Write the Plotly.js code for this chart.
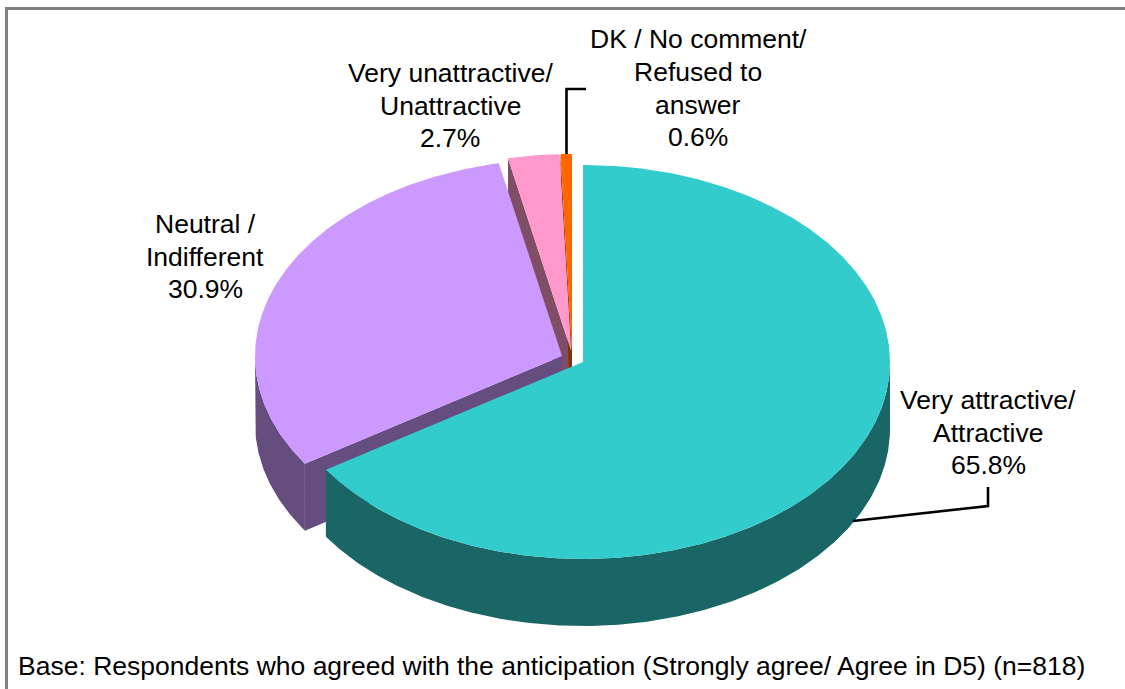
<!DOCTYPE html>
<html>
<head>
<meta charset="utf-8">
<script src="https://cdn.plot.ly/plotly-3.0.1.min.js"></script>
<style>html,body{margin:0;padding:0;background:#fff}#chart{width:1125px;height:689px}</style>
</head>
<body>
<div id="chart"></div>
<script>
// Survey shares, in drawing order clockwise from twelve o'clock
const categories = ["Very attractive/ Attractive", "Neutral / Indifferent", "Very unattractive/ Unattractive", "DK / No comment/ Refused to answer"];
const shares = [65.8, 30.9, 2.7, 0.6];
const labelLines = [
  ["Very attractive/", "Attractive"],
  ["Neutral /", "Indifferent"],
  ["Very unattractive/", "Unattractive"],
  ["DK / No comment/", "Refused to", "answer"]
];
const baseNote = "Base: Respondents who agreed with the anticipation (Strongly agree/ Agree in D5) (n=818)";

// Slice styling and tilted-disc geometry, in pixels
const topColors = ["#33CCCC", "#CC99FF", "#FF99CC", "#FF6600"];
const sideColors = ["#1A6666", "#664D80", "#804D66", "#803300"];
const apexX = [583, 562, 571.2, 572];
const apexY = [362, 356, 351, 351];
const labelX = [988, 205, 450, 698];
const labelFirstY = [400, 224, 73, 39.4];
const lineStep = 32.6;
const radiusX = 307, radiusY = 197, depth = 67;

const total = shares.reduce((a, b) => a + b, 0);
const startDeg = [];
shares.reduce((sum, v, i) => { startDeg[i] = sum / total * 360; return sum + v; }, 0);

function rimPoint(i, deg, drop) {
  const r = deg * Math.PI / 180;
  return [apexX[i] + radiusX * Math.sin(r), apexY[i] - radiusY * Math.cos(r) + drop];
}
function arc(i, a, b, drop) {
  const pts = [], n = Math.max(2, Math.ceil(Math.abs(b - a) * 2));
  for (let k = 0; k <= n; k++) pts.push(rimPoint(i, a + (b - a) * k / n, drop));
  return pts;
}
function polygon(pts, color) {
  return {
    type: "scatter", mode: "lines", fill: "toself", fillcolor: color,
    x: pts.map(p => p[0]), y: pts.map(p => p[1]),
    line: { width: 0, color: color }, hoverinfo: "skip", showlegend: false
  };
}
// Top face of a slice
function topFace(i) {
  const a = startDeg[i], b = a + shares[i] / total * 360;
  return polygon([[apexX[i], apexY[i]], ...arc(i, a, b, 0)], topColors[i]);
}
// Flat cut face along the slice's leading edge
function cutFace(i) {
  const p = rimPoint(i, startDeg[i], 0), q = rimPoint(i, startDeg[i], depth);
  return polygon([[apexX[i], apexY[i]], p, q, [apexX[i], apexY[i] + depth]], sideColors[i]);
}
// Outer wall for the front-facing part of the rim (90 to 270 degrees)
function wall(i) {
  const a = Math.max(startDeg[i], 90), b = Math.min(startDeg[i] + shares[i] / total * 360, 270);
  return polygon([...arc(i, a, b, 0), ...arc(i, b, a, depth)], sideColors[i]);
}

// Painted back to front
const traces = [
  cutFace(2), cutFace(3),
  topFace(3), topFace(2),
  wall(1), cutFace(1), topFace(1),
  wall(0), topFace(0)
];

const annotations = [];
labelLines.forEach((lines, i) => {
  [...lines, shares[i].toFixed(1) + "%"].forEach((t, k) => {
    annotations.push({
      xref: "x", yref: "y", x: labelX[i], y: labelFirstY[i] + k * lineStep,
      text: t, showarrow: false, xanchor: "center", yanchor: "middle"
    });
  });
});
annotations.push({
  xref: "x", yref: "y", x: 16, y: 666, text: baseNote,
  showarrow: false, xanchor: "left", yanchor: "middle"
});

const leader = (xs, ys) => ({
  type: "scatter", mode: "lines", x: xs, y: ys,
  line: { color: "#000", width: 2.6 }, hoverinfo: "skip", showlegend: false
});
traces.push(leader([853, 988, 988], [521, 506, 487]));
traces.push(leader([586, 566.5, 566.5], [89, 89, 154]));

const hiddenAxis = { visible: false, fixedrange: true, showgrid: false, zeroline: false };
Plotly.newPlot("chart", traces, {
  width: 1125, height: 689,
  margin: { l: 0, r: 0, t: 0, b: 0 },
  paper_bgcolor: "#fff", plot_bgcolor: "#fff",
  xaxis: { ...hiddenAxis, range: [0, 1125] },
  yaxis: { ...hiddenAxis, range: [689, 0] },
  font: { family: "Liberation Sans, Arial, sans-serif", size: 26.5, color: "#000" },
  annotations,
  shapes: [{
    type: "rect", xref: "x", yref: "y", x0: 6.5, y0: 8.5, x1: 1140, y1: 720,
    line: { color: "#808080", width: 3 }, layer: "below"
  }],
  showlegend: false
}, { displayModeBar: false, staticPlot: true });
</script>
</body>
</html>
